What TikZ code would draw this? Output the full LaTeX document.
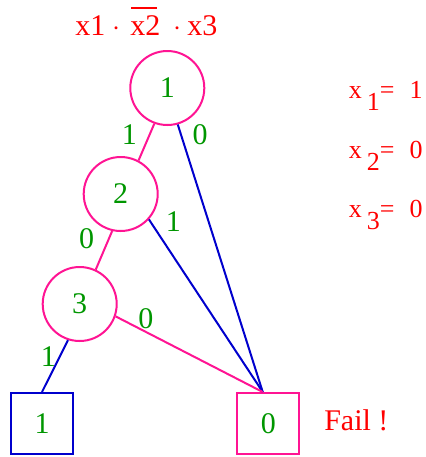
\documentclass[tikz,border=0pt]{standalone}
\usepackage{fontspec}
\setmainfont{Liberation Serif}
\usetikzlibrary{calc}
\definecolor{bddpink}{RGB}{255,20,147}
\definecolor{bddblue}{RGB}{0,0,205}
\definecolor{bddgreen}{RGB}{0,150,0}
\newlength\barwd
\newcommand\barred[1]{\settowidth\barwd{#1}%
  \rlap{\hspace{0.5pt}\rule[13pt]{\dimexpr\barwd-2pt\relax}{1pt}}#1}

\begin{document}
\begin{tikzpicture}[x=0.5pt, y=-0.5pt, line width=1pt,
  var/.style={circle, draw=bddpink, minimum size=37pt, inner sep=0pt,
    text=bddgreen, font=\fontsize{15}{18}\selectfont},
  leaf/.style={rectangle, draw=#1, minimum width=31pt, minimum height=30.5pt,
    inner sep=0pt, text=bddgreen, font=\fontsize{15}{18}\selectfont},
  lbl/.style={inner sep=0pt, text=bddgreen, font=\fontsize{15}{18}\selectfont},
  note/.style={inner sep=0pt, anchor=base west, text=red}]
  \useasboundingbox (0,0) rectangle (425,457);

  % variables
  \node[var] (c1) at (167.3,88) {1};
  \node[var] (c2) at (120.7,194) {2};
  \node[var] (c3) at (79.7,304) {3};
  % terminals
  \node[leaf=bddblue] (b1) at (42,423.5) {1};
  \node[leaf=bddpink] (b0) at (268.5,423.5) {0};
  \coordinate (hub) at ($(b0.north west)!0.41!(b0.north east)$);

  \draw[bddpink] (c1.-110) -- (c2.62);
  \draw[bddblue] (c1.-74) -- (hub);
  \draw[bddblue] (c2.-42) -- (hub);
  \draw[bddpink] (c2.-103) -- (c3.65);
  \draw[bddpink] (c3.-19) -- (hub);
  \draw[bddblue] (c3.-108) -- (b1.north);

  \node[lbl] (e12) at (129.3,135) {1};
  \node[lbl] (e10) at (200,135) {0};
  \node[lbl] (e20) at (173.3,221.7) {1};
  \node[lbl] (e23) at (86.7,238.3) {0};
  \node[lbl] (e30) at (146,319) {0};
  \node[lbl] (e31) at (48.3,356.7) {1};

  % formula and assignment
  \node[note, font=\fontsize{15}{18}\selectfont] (f) at (74.5,35)
    {x1\hspace{3.5pt}$\cdot$\hspace{5pt}\barred{x2}\hspace{6.5pt}$\cdot$\hspace{3pt}x3};
  \node[note, font=\fontsize{13}{16}\selectfont] (a1) at (348,98.5)
    {x\hspace{2.5pt}\raisebox{-6pt}{1}=\hspace{7.5pt}1};
  \node[note, font=\fontsize{13}{16}\selectfont] (a2) at (348,158.5)
    {x\hspace{2.5pt}\raisebox{-6pt}{2}=\hspace{7.5pt}0};
  \node[note, font=\fontsize{13}{16}\selectfont] (a3) at (348,217)
    {x\hspace{2.5pt}\raisebox{-6pt}{3}=\hspace{7.5pt}0};
  \node[note, font=\fontsize{15}{18}\selectfont] (fail) at (323.3,430) {Fail !};
\end{tikzpicture}
\end{document}
